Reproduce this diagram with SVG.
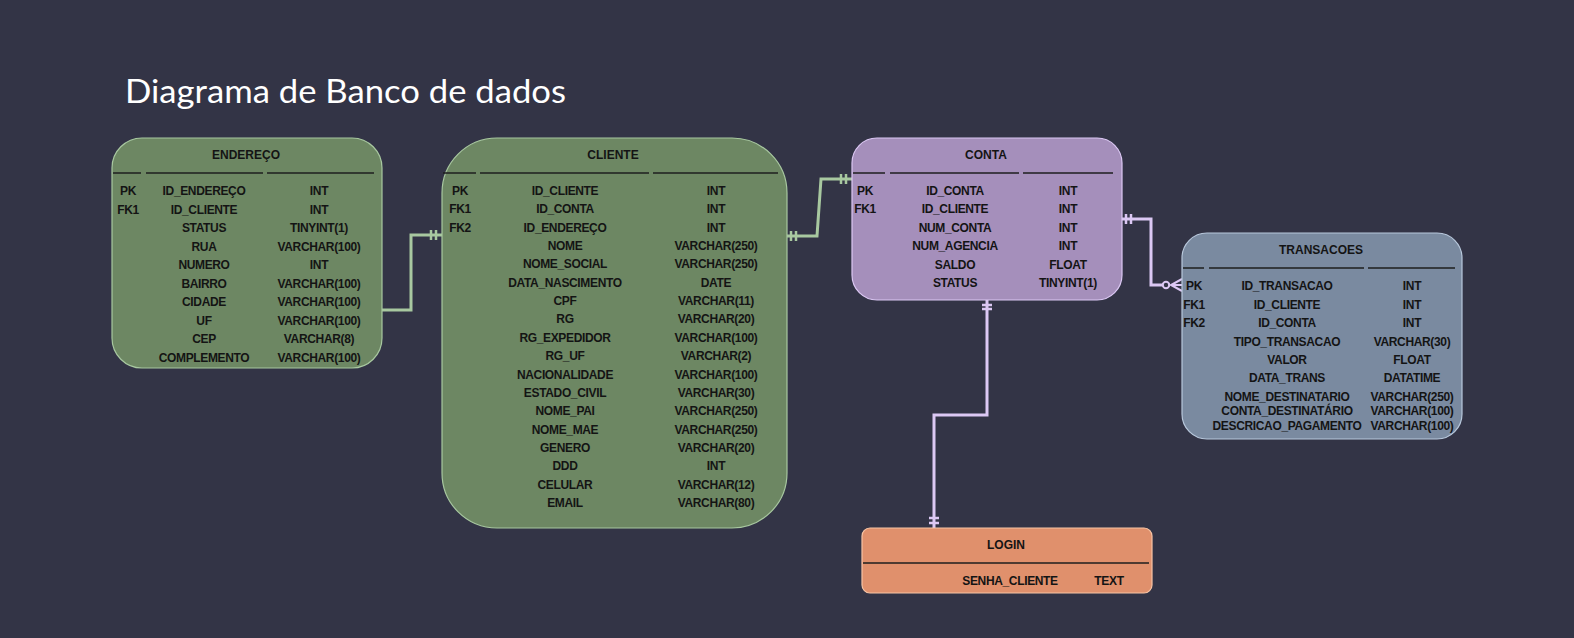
<svg xmlns="http://www.w3.org/2000/svg" width="1574" height="638" viewBox="0 0 1574 638">
<style>
.t{font-family:"Liberation Sans",Arial,sans-serif;font-size:12px;font-weight:bold;fill:#141414;text-anchor:middle;letter-spacing:-0.35px}
.h{font-family:"Liberation Sans",Arial,sans-serif;font-size:12px;font-weight:bold;fill:#141414;text-anchor:middle}
.sep{stroke:#1e1e1e;stroke-width:1.5}
.cg{fill:none;stroke:#a8c8a0;stroke-width:3}
.cp{fill:none;stroke:#dcc8f4;stroke-width:3}
.mg{stroke:#a8c8a0;stroke-width:2.5}
.mp{stroke:#dcc8f4;stroke-width:2.5}
</style>
<rect width="1574" height="638" fill="#333446"/>
<text x="125" y="103" font-family="Lato,'Open Sans',sans-serif" font-size="32" fill="#ffffff" textLength="441" lengthAdjust="spacingAndGlyphs">Diagrama de Banco de dados</text>

<g id="connectors">
<path class="cg" d="M382 310 H411 V235 H442"/>
<line class="mg" x1="431" y1="230" x2="431" y2="240"/>
<line class="mg" x1="436" y1="230" x2="436" y2="240"/>
<path class="cg" d="M787 236 H817 L821 179 H852"/>
<line class="mg" x1="791" y1="231" x2="791" y2="241"/>
<line class="mg" x1="796" y1="231" x2="796" y2="241"/>
<line class="mg" x1="841" y1="174" x2="841" y2="184"/>
<line class="mg" x1="846" y1="174" x2="846" y2="184"/>
<path class="cp" d="M1122 219 H1151 V285 H1170"/>
<line class="mp" x1="1126" y1="214" x2="1126" y2="224"/>
<line class="mp" x1="1131" y1="214" x2="1131" y2="224"/>
<circle cx="1166" cy="285" r="3.2" fill="#333446" stroke="#dcc8f4" stroke-width="2"/>
<path d="M1182 279 L1171 285 L1182 291 M1171 285 H1182" fill="none" stroke="#dcc8f4" stroke-width="2"/>
<path class="cp" d="M987 300 V415 H934 V528"/>
<line class="mp" x1="982" y1="305" x2="992" y2="305"/>
<line class="mp" x1="982" y1="309" x2="992" y2="309"/>
<line class="mp" x1="929" y1="518" x2="939" y2="518"/>
<line class="mp" x1="929" y1="523" x2="939" y2="523"/>
</g>

<g id="endereco">
<rect x="112" y="138" width="270" height="230" rx="30" fill="#6d8763" stroke="#a8c8a0" stroke-width="1.2"/>
<text class="h" x="246" y="159">ENDEREÇO</text>
<line class="sep" x1="113" y1="173" x2="141" y2="173"/>
<line class="sep" x1="146" y1="173" x2="263" y2="173"/>
<line class="sep" x1="267" y1="173" x2="374" y2="173"/>
<text class="t" x="128" y="195">PK</text><text class="t" x="204" y="195">ID_ENDEREÇO</text><text class="t" x="319" y="195">INT</text>
<text class="t" x="128" y="213.5">FK1</text><text class="t" x="204" y="213.5">ID_CLIENTE</text><text class="t" x="319" y="213.5">INT</text>
<text class="t" x="204" y="232">STATUS</text><text class="t" x="319" y="232">TINYINT(1)</text>
<text class="t" x="204" y="250.5">RUA</text><text class="t" x="319" y="250.5">VARCHAR(100)</text>
<text class="t" x="204" y="269">NUMERO</text><text class="t" x="319" y="269">INT</text>
<text class="t" x="204" y="287.5">BAIRRO</text><text class="t" x="319" y="287.5">VARCHAR(100)</text>
<text class="t" x="204" y="306">CIDADE</text><text class="t" x="319" y="306">VARCHAR(100)</text>
<text class="t" x="204" y="324.5">UF</text><text class="t" x="319" y="324.5">VARCHAR(100)</text>
<text class="t" x="204" y="343">CEP</text><text class="t" x="319" y="343">VARCHAR(8)</text>
<text class="t" x="204" y="361.5">COMPLEMENTO</text><text class="t" x="319" y="361.5">VARCHAR(100)</text>
</g>

<g id="cliente">
<rect x="442" y="138" width="345" height="390" rx="55" fill="#6d8763" stroke="#a8c8a0" stroke-width="1.2"/>
<text class="h" x="613" y="159">CLIENTE</text>
<line class="sep" x1="443" y1="173" x2="476" y2="173"/>
<line class="sep" x1="480" y1="173" x2="649" y2="173"/>
<line class="sep" x1="653" y1="173" x2="778" y2="173"/>
<text class="t" x="460" y="195">PK</text><text class="t" x="565" y="195">ID_CLIENTE</text><text class="t" x="716" y="195">INT</text>
<text class="t" x="460" y="213.35">FK1</text><text class="t" x="565" y="213.35">ID_CONTA</text><text class="t" x="716" y="213.35">INT</text>
<text class="t" x="460" y="231.7">FK2</text><text class="t" x="565" y="231.7">ID_ENDEREÇO</text><text class="t" x="716" y="231.7">INT</text>
<text class="t" x="565" y="250.05">NOME</text><text class="t" x="716" y="250.05">VARCHAR(250)</text>
<text class="t" x="565" y="268.4">NOME_SOCIAL</text><text class="t" x="716" y="268.4">VARCHAR(250)</text>
<text class="t" x="565" y="286.75">DATA_NASCIMENTO</text><text class="t" x="716" y="286.75">DATE</text>
<text class="t" x="565" y="305.1">CPF</text><text class="t" x="716" y="305.1">VARCHAR(11)</text>
<text class="t" x="565" y="323.45">RG</text><text class="t" x="716" y="323.45">VARCHAR(20)</text>
<text class="t" x="565" y="341.8">RG_EXPEDIDOR</text><text class="t" x="716" y="341.8">VARCHAR(100)</text>
<text class="t" x="565" y="360.15">RG_UF</text><text class="t" x="716" y="360.15">VARCHAR(2)</text>
<text class="t" x="565" y="378.5">NACIONALIDADE</text><text class="t" x="716" y="378.5">VARCHAR(100)</text>
<text class="t" x="565" y="396.85">ESTADO_CIVIL</text><text class="t" x="716" y="396.85">VARCHAR(30)</text>
<text class="t" x="565" y="415.2">NOME_PAI</text><text class="t" x="716" y="415.2">VARCHAR(250)</text>
<text class="t" x="565" y="433.55">NOME_MAE</text><text class="t" x="716" y="433.55">VARCHAR(250)</text>
<text class="t" x="565" y="451.9">GENERO</text><text class="t" x="716" y="451.9">VARCHAR(20)</text>
<text class="t" x="565" y="470.25">DDD</text><text class="t" x="716" y="470.25">INT</text>
<text class="t" x="565" y="488.6">CELULAR</text><text class="t" x="716" y="488.6">VARCHAR(12)</text>
<text class="t" x="565" y="506.95">EMAIL</text><text class="t" x="716" y="506.95">VARCHAR(80)</text>
</g>

<g id="conta">
<rect x="852" y="138" width="270" height="162" rx="25" fill="#a58fbb" stroke="#dcc8f4" stroke-width="1.2"/>
<text class="h" x="986" y="159">CONTA</text>
<line class="sep" x1="853" y1="173" x2="885" y2="173"/>
<line class="sep" x1="890" y1="173" x2="1019" y2="173"/>
<line class="sep" x1="1023" y1="173" x2="1113" y2="173"/>
<text class="t" x="865" y="195">PK</text><text class="t" x="955" y="195">ID_CONTA</text><text class="t" x="1068" y="195">INT</text>
<text class="t" x="865" y="213.4">FK1</text><text class="t" x="955" y="213.4">ID_CLIENTE</text><text class="t" x="1068" y="213.4">INT</text>
<text class="t" x="955" y="231.8">NUM_CONTA</text><text class="t" x="1068" y="231.8">INT</text>
<text class="t" x="955" y="250.2">NUM_AGENCIA</text><text class="t" x="1068" y="250.2">INT</text>
<text class="t" x="955" y="268.6">SALDO</text><text class="t" x="1068" y="268.6">FLOAT</text>
<text class="t" x="955" y="287">STATUS</text><text class="t" x="1068" y="287">TINYINT(1)</text>
</g>

<g id="transacoes">
<rect x="1182" y="233" width="280" height="206" rx="25" fill="#7a8aa0" stroke="#b8c8dc" stroke-width="1.2"/>
<text class="h" x="1321" y="254">TRANSACOES</text>
<line class="sep" x1="1183" y1="268" x2="1204" y2="268"/>
<line class="sep" x1="1209" y1="268" x2="1364" y2="268"/>
<line class="sep" x1="1368" y1="268" x2="1455" y2="268"/>
<text class="t" x="1194" y="290">PK</text><text class="t" x="1287" y="290">ID_TRANSACAO</text><text class="t" x="1412" y="290">INT</text>
<text class="t" x="1194" y="309">FK1</text><text class="t" x="1287" y="309">ID_CLIENTE</text><text class="t" x="1412" y="309">INT</text>
<text class="t" x="1194" y="327">FK2</text><text class="t" x="1287" y="327">ID_CONTA</text><text class="t" x="1412" y="327">INT</text>
<text class="t" x="1287" y="346">TIPO_TRANSACAO</text><text class="t" x="1412" y="346">VARCHAR(30)</text>
<text class="t" x="1287" y="364">VALOR</text><text class="t" x="1412" y="364">FLOAT</text>
<text class="t" x="1287" y="382">DATA_TRANS</text><text class="t" x="1412" y="382">DATATIME</text>
<text class="t" x="1287" y="401">NOME_DESTINATARIO</text><text class="t" x="1412" y="401">VARCHAR(250)</text>
<text class="t" x="1287" y="415">CONTA_DESTINATÁRIO</text><text class="t" x="1412" y="415">VARCHAR(100)</text>
<text class="t" x="1287" y="430">DESCRICAO_PAGAMENTO</text><text class="t" x="1412" y="430">VARCHAR(100)</text>
</g>

<g id="login">
<rect x="862" y="528" width="290" height="65" rx="8" fill="#e0906c" stroke="#f8c4a4" stroke-width="1.2"/>
<text class="h" x="1006" y="549">LOGIN</text>
<line class="sep" x1="863" y1="563" x2="1149" y2="563"/>
<text class="t" x="1010" y="585">SENHA_CLIENTE</text><text class="t" x="1109" y="585">TEXT</text>
</g>
</svg>
